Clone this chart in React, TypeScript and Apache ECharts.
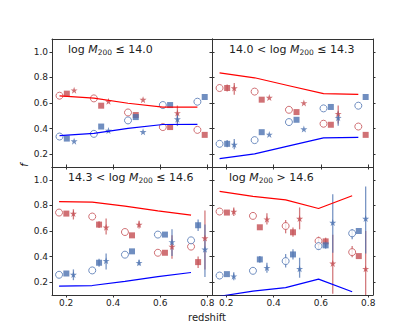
import React, { useEffect, useRef } from "react";
import * as echarts from "echarts";

// ---------- axes ----------
const X_MIN = 0.14;
const X_MAX = 0.82;
const Y_MIN = 0.1;
const Y_MAX = 1.1;
const xTicks = [0.2, 0.4, 0.6, 0.8];
const yTicks = [0.2, 0.4, 0.6, 0.8, 1.0];

// ---------- panel titles ----------
const titlePre = ["", "14.0 < ", "14.3 < ", ""];
const titlePost = [" \u2264 14.0", " \u2264 14.3", " \u2264 14.6", " > 14.6"];

// ---------- panel 1: log M200 <= 14.0 ----------
const p1XC = [0.172, 0.318, 0.463, 0.611, 0.758];
const p1XS = [0.203, 0.349, 0.496, 0.642, 0.789];
const p1XT = [0.234, 0.38, 0.527, 0.673];
const p1RedLine = [0.655, 0.638, 0.598, 0.568, 0.567];
const p1BlueLine = [0.345, 0.362, 0.402, 0.432, 0.433];
const p1RedC = [0.657, 0.636, 0.526, 0.412, 0.39];
const p1RedS = [0.673, 0.579, 0.506, 0.412, 0.351];
const p1RedT = [0.7, 0.613, 0.626, 0.522];
const p1BlueC = [0.338, 0.359, 0.464, 0.584, 0.61];
const p1BlueS = [0.322, 0.416, 0.49, 0.584, 0.647];
const p1BlueT = [0.302, 0.385, 0.375, 0.474];
const p1ErrRedT = [null, null, null, [0.44, 0.58]];
const p1ErrBlueT = [null, null, null, [0.42, 0.524]];

// ---------- panel 2: 14.0 < log M200 <= 14.3 ----------
const p2XC = [0.172, 0.32, 0.465, 0.611, 0.758];
const p2XS = [0.204, 0.35, 0.497, 0.642, 0.789];
const p2XT = [0.234, 0.382, 0.528, 0.673];
const p2RedLine = [0.835, 0.797, 0.735, 0.673, 0.668];
const p2BlueLine = [0.165, 0.203, 0.265, 0.327, 0.332];
const p2RedC = [0.717, 0.689, 0.547, 0.438, 0.416];
const p2RedS = [0.717, 0.626, 0.529, 0.43, 0.351];
const p2RedT = [0.717, 0.642, 0.6, 0.516];
const p2BlueC = [0.281, 0.31, 0.451, 0.558, 0.579];
const p2BlueS = [0.281, 0.372, 0.469, 0.569, 0.647];
const p2BlueT = [0.275, 0.354, 0.396, 0.485];
const p2ErrRedS = [[0.69, 0.745], null, null, null, null];
const p2ErrRedT = [[0.665, 0.757], null, null, [0.44, 0.58]];
const p2ErrBlueS = [[0.255, 0.31], null, null, null, null];
const p2ErrBlueT = [[0.239, 0.318], null, null, [0.422, 0.534]];

// ---------- panel 3: 14.3 < log M200 <= 14.6 ----------
const p3XC = [0.17, 0.311, 0.45, 0.59, 0.731];
const p3XS = [0.201, 0.34, 0.48, 0.62, 0.761];
const p3XT = [0.231, 0.37, 0.51, 0.65, 0.79];
const p3RedLine = [0.83, 0.826, 0.794, 0.757, 0.724];
const p3BlueLine = [0.17, 0.174, 0.206, 0.243, 0.276];
const p3RedC = [0.744, 0.713, 0.592, 0.43, 0.478];
const p3RedS = [0.736, 0.65, 0.566, 0.43, 0.357];
const p3RedT = [0.736, 0.629, 0.65, 0.478, 0.545];
const p3BlueC = [0.258, 0.292, 0.415, 0.572, 0.527];
const p3BlueS = [0.268, 0.352, 0.441, 0.572, 0.645];
const p3BlueT = [0.26, 0.368, 0.352, 0.514, 0.457];
const p3ErrRedS = [null, [0.624, 0.676], null, null, [0.31, 0.4]];
const p3ErrRedT = [[0.69, 0.77], [0.572, 0.697], [0.62, 0.68], [0.383, 0.566], [0.3, 0.76]];
const p3ErrBlueS = [null, [0.321, 0.384], null, null, [0.6, 0.69]];
const p3ErrBlueT = [[0.216, 0.3], [0.3, 0.425], [0.33, 0.375], [0.404, 0.613], [0.24, 0.65]];

// ---------- panel 4: log M200 > 14.6 ----------
const p4XC = [0.172, 0.313, 0.451, 0.59, 0.732];
const p4XS = [0.203, 0.342, 0.482, 0.62, 0.76];
const p4XT = [0.232, 0.372, 0.51, 0.65, 0.789];
const p4RedLine = [0.91, 0.87, 0.843, 0.776, 0.875];
const p4BlueLine = [0.09, 0.13, 0.157, 0.224, 0.125];
const p4RedC = [0.752, 0.718, 0.639, 0.522, 0.435];
const p4RedS = [0.744, 0.629, 0.59, 0.519, 0.404];
const p4RedT = [0.752, 0.692, 0.697, 0.347, 0.305];
const p4BlueC = [0.252, 0.289, 0.365, 0.482, 0.582];
const p4BlueS = [0.263, 0.378, 0.417, 0.488, 0.6];
const p4BlueT = [0.247, 0.313, 0.305, 0.666, 0.697];
const p4ErrRedC = [null, null, [0.582, 0.686], [0.488, 0.556], [0.395, 0.482]];
const p4ErrRedS = [null, null, [0.556, 0.627], [0.478, 0.548], null];
const p4ErrRedT = [[0.718, 0.783], [0.65, 0.739], [0.613, 0.784], [0.11, 0.57], [0.0, 0.6]];
const p4ErrBlueC = [null, null, [0.315, 0.42], [0.451, 0.514], [0.535, 0.613]];
const p4ErrBlueS = [null, [0.352, 0.404], [0.378, 0.457], [0.462, 0.522], null];
const p4ErrBlueT = [[0.216, 0.278], [0.274, 0.352], [0.235, 0.391], [0.43, 0.888], [0.425, 0.948]];

type Err = (number[] | null)[] | undefined;
interface Panel {
  xC: number[]; xS: number[]; xT: number[];
  redLine: number[]; blueLine: number[];
  redC: number[]; redS: number[]; redT: number[];
  blueC: number[]; blueS: number[]; blueT: number[];
  eRedC?: Err; eRedS?: Err; eRedT?: Err;
  eBlueC?: Err; eBlueS?: Err; eBlueT?: Err;
}

const panels: Panel[] = [
  { xC: p1XC, xS: p1XS, xT: p1XT, redLine: p1RedLine, blueLine: p1BlueLine, redC: p1RedC, redS: p1RedS, redT: p1RedT, blueC: p1BlueC, blueS: p1BlueS, blueT: p1BlueT, eRedT: p1ErrRedT, eBlueT: p1ErrBlueT },
  { xC: p2XC, xS: p2XS, xT: p2XT, redLine: p2RedLine, blueLine: p2BlueLine, redC: p2RedC, redS: p2RedS, redT: p2RedT, blueC: p2BlueC, blueS: p2BlueS, blueT: p2BlueT, eRedS: p2ErrRedS, eRedT: p2ErrRedT, eBlueS: p2ErrBlueS, eBlueT: p2ErrBlueT },
  { xC: p3XC, xS: p3XS, xT: p3XT, redLine: p3RedLine, blueLine: p3BlueLine, redC: p3RedC, redS: p3RedS, redT: p3RedT, blueC: p3BlueC, blueS: p3BlueS, blueT: p3BlueT, eRedS: p3ErrRedS, eRedT: p3ErrRedT, eBlueS: p3ErrBlueS, eBlueT: p3ErrBlueT },
  { xC: p4XC, xS: p4XS, xT: p4XT, redLine: p4RedLine, blueLine: p4BlueLine, redC: p4RedC, redS: p4RedS, redT: p4RedT, blueC: p4BlueC, blueS: p4BlueS, blueT: p4BlueT, eRedC: p4ErrRedC, eRedS: p4ErrRedS, eRedT: p4ErrRedT, eBlueC: p4ErrBlueC, eBlueS: p4ErrBlueS, eBlueT: p4ErrBlueT },
];

// ---------- styles ----------
const FONT = "DejaVu Sans";
const AX = "#333333";
const TXT = "#222222";
const RED = "#c44e52";
const BLUE = "#4c72b0";
const RED_ERR = "rgba(196,78,82,0.75)";
const BLUE_ERR = "rgba(76,114,176,0.75)";
const STAR =
  "path://M50,0 L61.8,35.1 L98.1,35.1 L68.8,56.8 L79.4,91.2 L50,70 L20.6,91.2 L31.2,56.8 L1.9,35.1 L38.2,35.1 Z";

const grids = [
  { left: 52, top: 39, width: 160, height: 128 },
  { left: 212, top: 39, width: 161, height: 128 },
  { left: 52, top: 167, width: 160, height: 128 },
  { left: 212, top: 167, width: 161, height: 128 },
];

function zip(xs: number[], ys: number[]) {
  return ys.map((y, i) => [xs[i], y]);
}

function errData(xs: number[], errs: Err) {
  if (!errs) return [];
  const out: number[][] = [];
  errs.forEach((e, i) => {
    if (e) out.push([xs[i], e[0], e[1]]);
  });
  return out;
}

function errSeries(gi: number, xs: number[], errs: Err, color: string, z: number) {
  return {
    type: "custom",
    xAxisIndex: gi * 2,
    yAxisIndex: gi * 2,
    z,
    clip: true,
    encode: { x: 0, y: [1, 2] },
    data: errData(xs, errs),
    renderItem: (params: any, api: any) => {
      const a = api.coord([api.value(0), api.value(1)]);
      const b = api.coord([api.value(0), api.value(2)]);
      const cs = params.coordSys;
      const top = cs.y;
      const bot = cs.y + cs.height;
      const y1 = Math.max(top, Math.min(bot, a[1]));
      const y2 = Math.max(top, Math.min(bot, b[1]));
      return {
        type: "line",
        shape: { x1: a[0], y1, x2: b[0], y2 },
        style: { stroke: color, lineWidth: 1.3 },
      };
    },
  };
}

function scatter(gi: number, data: number[][], symbol: string, size: number, color: string, open: boolean, z: number) {
  return {
    type: "scatter",
    xAxisIndex: gi * 2,
    yAxisIndex: gi * 2,
    symbol,
    symbolSize: size,
    z,
    data,
    itemStyle: open
      ? { color: "#ffffff", borderColor: color, borderWidth: 1 }
      : { color, borderWidth: 0 },
  };
}

function line(gi: number, data: number[][], color: string) {
  return {
    type: "line",
    xAxisIndex: gi * 2,
    yAxisIndex: gi * 2,
    data,
    symbol: "none",
    clip: true,
    z: 6,
    lineStyle: { color, width: 1.2 },
  };
}

function buildSeries() {
  const s: any[] = [];
  panels.forEach((p, gi) => {
    s.push(line(gi, zip(p.xC, p.redLine), "#ff0000"));
    s.push(line(gi, zip(p.xC, p.blueLine), "#0000ff"));
    s.push(errSeries(gi, p.xC, p.eRedC, RED_ERR, 2));
    s.push(errSeries(gi, p.xS, p.eRedS, RED_ERR, 2));
    s.push(errSeries(gi, p.xT, p.eRedT, RED_ERR, 2));
    s.push(errSeries(gi, p.xC, p.eBlueC, BLUE_ERR, 3));
    s.push(errSeries(gi, p.xS, p.eBlueS, BLUE_ERR, 3));
    s.push(errSeries(gi, p.xT, p.eBlueT, BLUE_ERR, 3));
    s.push(scatter(gi, zip(p.xC, p.redC), "circle", 7, RED, true, 4));
    s.push(scatter(gi, zip(p.xS, p.redS), "rect", 6, RED, false, 4));
    s.push(scatter(gi, zip(p.xT, p.redT), STAR, 7, RED, false, 4));
    s.push(scatter(gi, zip(p.xC, p.blueC), "circle", 7, BLUE, true, 5));
    s.push(scatter(gi, zip(p.xS, p.blueS), "rect", 6, BLUE, false, 5));
    s.push(scatter(gi, zip(p.xT, p.blueT), STAR, 7, BLUE, false, 5));
  });
  return s;
}

function buildXAxes() {
  const axes: any[] = [];
  grids.forEach((_, gi) => {
    const bottomRow = gi >= 2;
    axes.push({
      type: "value", gridIndex: gi, position: "bottom", min: X_MIN, max: X_MAX,
      axisLine: { show: true, onZero: false, lineStyle: { color: AX, width: 1 } },
      axisTick: { show: true, inside: false, length: 2.5, customValues: xTicks, lineStyle: { color: AX } },
      axisLabel: { show: bottomRow, customValues: xTicks, formatter: (v: number) => v.toFixed(1), fontSize: 9, color: TXT, margin: 3, fontFamily: FONT },
      splitLine: { show: false },
    });
    axes.push({
      type: "value", gridIndex: gi, position: "top", min: X_MIN, max: X_MAX,
      axisLine: { show: true, onZero: false, lineStyle: { color: AX, width: 1 } },
      axisTick: { show: bottomRow, inside: false, length: 2.5, customValues: xTicks, lineStyle: { color: AX } },
      axisLabel: { show: false },
      splitLine: { show: false },
    });
  });
  return axes;
}

function buildYAxes() {
  const axes: any[] = [];
  grids.forEach((_, gi) => {
    const leftCol = gi % 2 === 0;
    axes.push({
      type: "value", gridIndex: gi, position: "left", min: Y_MIN, max: Y_MAX,
      axisLine: { show: true, onZero: false, lineStyle: { color: AX, width: 1 } },
      axisTick: { show: true, inside: false, length: 2.5, customValues: yTicks, lineStyle: { color: AX } },
      axisLabel: { show: leftCol, customValues: yTicks, formatter: (v: number) => v.toFixed(1), fontSize: 9, color: TXT, margin: 4, fontFamily: FONT },
      splitLine: { show: false },
    });
    axes.push({
      type: "value", gridIndex: gi, position: "right", min: Y_MIN, max: Y_MAX,
      axisLine: { show: true, onZero: false, lineStyle: { color: AX, width: 1 } },
      axisTick: { show: true, inside: false, length: 2.5, customValues: yTicks, lineStyle: { color: AX } },
      axisLabel: { show: false },
      splitLine: { show: false },
    });
  });
  return axes;
}

const titlePos = [
  { x: 68, y: 49 },
  { x: 229, y: 49 },
  { x: 68, y: 177 },
  { x: 229, y: 177 },
];

function buildGraphics() {
  const g: any[] = [];
  titlePos.forEach((p, i) => {
    g.push({
      type: "text",
      x: p.x,
      y: p.y,
      z: 100,
      style: {
        text: `{n|${titlePre[i]}log }{i|M}{s|200}{n|${titlePost[i]}}`,
        verticalAlign: "middle",
        align: "left",
        fill: TXT,
        rich: {
          n: { fontSize: 11, fontFamily: FONT, color: TXT, lineHeight: 14 },
          i: { fontSize: 11, fontFamily: FONT, fontStyle: "italic", color: TXT, lineHeight: 14 },
          s: { fontSize: 7.5, fontFamily: FONT, color: TXT, lineHeight: 9, verticalAlign: "bottom" },
        },
      },
    });
  });
  g.push({
    type: "text",
    x: 207,
    y: 317,
    style: { text: "redshift", font: `10px "${FONT}"`, fill: TXT, align: "center", verticalAlign: "middle" },
  });
  g.push({
    type: "text",
    x: 24,
    y: 165,
    rotation: Math.PI / 2,
    style: { text: "f", font: `italic 10px "${FONT}"`, fill: TXT, align: "center", verticalAlign: "middle" },
  });
  return g;
}

export default function App() {
  const ref = useRef<HTMLDivElement>(null);
  useEffect(() => {
    if (!ref.current) return;
    const chart = echarts.init(ref.current, null, { renderer: "svg" });
    chart.setOption({
      animation: false,
      backgroundColor: "#ffffff",
      textStyle: { fontFamily: FONT },
      grid: grids.map((g) => ({ ...g, containLabel: false })),
      xAxis: buildXAxes(),
      yAxis: buildYAxes(),
      series: buildSeries(),
      graphic: buildGraphics(),
    });
    return () => chart.dispose();
  }, []);
  return (
    <div
      ref={ref}
      style={{ position: "absolute", left: 0, top: 0, width: 415, height: 332 }}
    />
  );
}
